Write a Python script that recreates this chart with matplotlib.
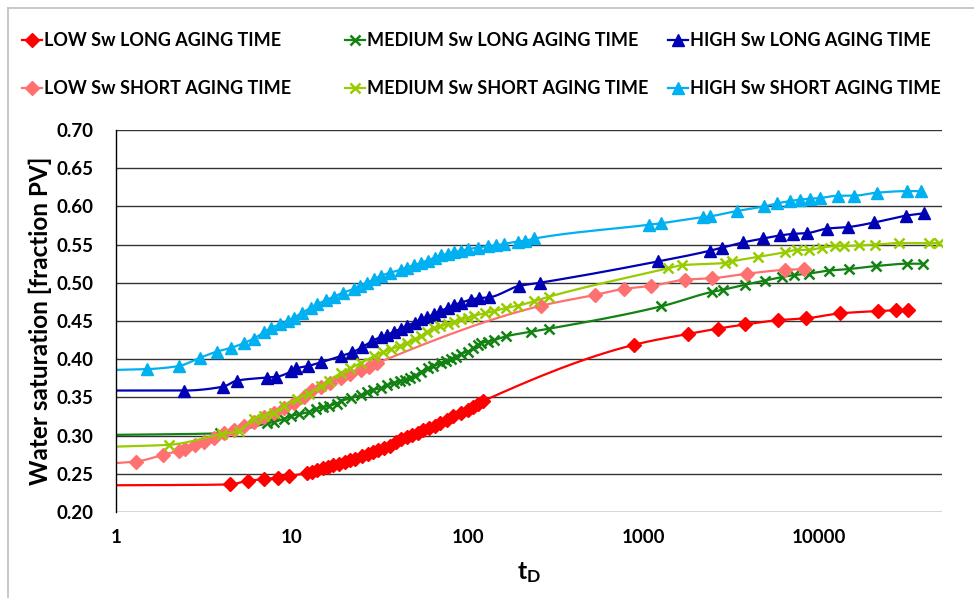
import numpy as np
import matplotlib
matplotlib.use("Agg")
import matplotlib.pyplot as plt
from matplotlib.lines import Line2D
from matplotlib.ticker import NullLocator, FixedLocator, FixedFormatter

plt.rcParams['font.family'] = ['Lato', 'DejaVu Sans']
plt.rcParams['font.weight'] = 'bold'
plt.rcParams['mathtext.fontset'] = 'custom'
plt.rcParams['mathtext.bf'] = 'Lato:bold'
plt.rcParams['mathtext.rm'] = 'Lato:bold'

# ============================================================
# Data
# ============================================================

low_long_t = [1, 4.43, 5.63, 6.98, 8.33, 9.6, 12.2, 13.0, 14.0, 15.0, 16.0, 17.2,
              18.5, 20.0, 21.5, 23.0, 25.0, 27.0, 29.0, 31.0, 33.5, 36.0, 39.0,
              42.0, 45.0, 48.0, 52.0, 56.0, 60.0, 65.0, 70.0, 76.0, 83.0, 92.0,
              100, 108, 115, 122, 890, 1785, 2646, 3788, 5825, 8450, 13180,
              21570, 27540, 31990]
low_long_sw = [0.235, 0.236, 0.241, 0.243, 0.245, 0.247, 0.251, 0.253, 0.255, 0.257,
               0.259, 0.261, 0.263, 0.266, 0.268, 0.270, 0.273, 0.276, 0.278, 0.281,
               0.284, 0.287, 0.291, 0.295, 0.298, 0.301, 0.304, 0.307, 0.310, 0.313,
               0.317, 0.321, 0.326, 0.330, 0.333, 0.338, 0.342, 0.345, 0.419, 0.433,
               0.440, 0.4455, 0.451, 0.4535, 0.460, 0.463, 0.464, 0.464]

med_long_t = [1, 3.92, 7.24, 7.97, 9.0, 9.96, 11.0, 12.5, 13.65, 15.0, 16.3, 18.0,
              19.0, 21.6, 24.6, 26.9, 29.0, 32.1, 35.0, 38.0, 41.0, 44.0, 47.0,
              50.0, 54.0, 59.4, 64.0, 70.5, 75.0, 80.0, 86.0, 92.0, 100.5, 108,
              114, 119, 130, 141.5, 165.6, 230, 292, 1257, 2446, 2854, 3787, 4926,
              6135, 7160, 8711, 11330, 14730, 21080, 31690, 38940]
med_long_sw = [0.301, 0.303, 0.316, 0.318, 0.322, 0.326, 0.328, 0.331, 0.335, 0.337,
               0.339, 0.342, 0.345, 0.349, 0.353, 0.357, 0.360, 0.362, 0.366, 0.369,
               0.371, 0.373, 0.376, 0.378, 0.383, 0.388, 0.391, 0.395, 0.398, 0.400,
               0.403, 0.407, 0.410, 0.415, 0.418, 0.421, 0.423, 0.425, 0.430, 0.436,
               0.440, 0.469, 0.488, 0.491, 0.4975, 0.503, 0.5076, 0.510, 0.512, 0.516,
               0.518, 0.522, 0.525, 0.525]

high_long_t = [1, 2.45, 4.06, 4.88, 7.24, 8.18, 9.93, 10.6, 12.3, 14.7, 18.96, 22.1,
               25.2, 28.7, 32.1, 35.0, 38.2, 42.0, 45.5, 50.0, 54.2, 59.0, 64.6, 70.0,
               77.0, 84.0, 91.7, 104.5, 116.6, 133, 197, 256.6, 1214, 2392, 2790,
               3710, 4825, 5998, 7095, 8530, 11100, 14630, 20620, 31400, 39470]
high_long_sw = [0.359, 0.359, 0.364, 0.372, 0.376, 0.377, 0.384, 0.388, 0.391, 0.396,
                0.404, 0.409, 0.416, 0.424, 0.429, 0.432, 0.436, 0.440, 0.444, 0.448,
                0.452, 0.455, 0.459, 0.463, 0.467, 0.471, 0.474, 0.478, 0.480, 0.481,
                0.496, 0.500, 0.528, 0.542, 0.546, 0.553, 0.558, 0.562, 0.564, 0.565,
                0.571, 0.573, 0.579, 0.588, 0.591]

low_short_t = [1, 1.30, 1.86, 2.27, 2.47, 2.82, 3.15, 3.59, 4.09, 4.67, 5.32, 6.07,
               6.92, 7.89, 9.0, 10.3, 11.7, 13.1, 14.6, 16.5, 19.0, 21.5, 24.6, 27.5,
               30.7, 262, 528, 773, 1112, 1723, 2467, 3911, 6408, 8160]
low_short_sw = [0.264, 0.266, 0.275, 0.280, 0.283, 0.288, 0.292, 0.297, 0.303, 0.307,
                0.313, 0.318, 0.325, 0.329, 0.336, 0.343, 0.351, 0.360, 0.364, 0.369,
                0.376, 0.381, 0.386, 0.390, 0.395, 0.470, 0.484, 0.492, 0.496, 0.504,
                0.506, 0.512, 0.517, 0.518]

med_short_t = [1, 2.01, 4.01, 4.99, 6.07, 6.92, 7.97, 9.0, 10.7, 12.5, 14.6, 16.3,
               19.0, 21.5, 24.6, 29.4, 33.0, 36.6, 41.0, 45.5, 50.0, 54.2, 59.0, 64.6,
               70.0, 77.0, 84.0, 91.7, 100, 109.2, 125, 142, 165, 193, 240, 292, 1384,
               1649, 2912, 3177, 4518, 6408, 7485, 8711, 10380, 12360, 13800, 16790,
               20890, 28430, 42150, 48000]
med_short_sw = [0.2856, 0.288, 0.302, 0.306, 0.322, 0.326, 0.329, 0.339, 0.348, 0.355,
                0.365, 0.372, 0.382, 0.388, 0.395, 0.404, 0.409, 0.413, 0.417, 0.421,
                0.426, 0.430, 0.436, 0.441, 0.443, 0.446, 0.449, 0.452, 0.454, 0.457,
                0.460, 0.463, 0.467, 0.470, 0.476, 0.482, 0.519, 0.523, 0.526, 0.528,
                0.534, 0.540, 0.543, 0.543, 0.546, 0.548, 0.548, 0.549, 0.550, 0.552,
                0.552, 0.552]

high_short_t = [1, 1.50, 2.27, 3.01, 3.75, 4.53, 5.33, 6.07, 6.92, 7.63, 8.62, 9.49,
                10.27, 11.47, 12.78, 13.96, 15.57, 17.4, 19.5, 22.6, 24.5, 26.9, 29.5,
                32.1, 36.0, 41.7, 45.0, 49.7, 54.0, 59.2, 65.0, 70.5, 77.0, 84.0, 92.0,
                100.2, 114.2, 130, 145, 162, 193, 212, 240, 1079, 1268, 2194, 2393,
                3404, 4888, 5745, 6843, 7800, 8895, 10140, 12790, 15710, 21370, 31410,
                37740]
high_short_sw = [0.386, 0.387, 0.391, 0.402, 0.410, 0.415, 0.421, 0.427, 0.435, 0.441,
                 0.446, 0.450, 0.454, 0.461, 0.467, 0.472, 0.477, 0.482, 0.487, 0.492,
                 0.496, 0.500, 0.505, 0.509, 0.513, 0.517, 0.520, 0.523, 0.526, 0.529,
                 0.533, 0.536, 0.538, 0.540, 0.542, 0.544, 0.546, 0.548, 0.549, 0.551,
                 0.554, 0.555, 0.558, 0.576, 0.578, 0.586, 0.587, 0.594, 0.600, 0.604,
                 0.607, 0.609, 0.610, 0.611, 0.614, 0.614, 0.618, 0.620, 0.620]

# label, t, sw, colour, marker, marker size, edge width
series = [
    ("LOW Sw LONG AGING TIME", low_long_t, low_long_sw, "#FF0000", "D", 7, 1.0),
    ("MEDIUM Sw LONG AGING TIME", med_long_t, med_long_sw, "#128212", "x", 7, 1.8),
    ("HIGH Sw LONG AGING TIME", high_long_t, high_long_sw, "#0000B4", "^", 8, 1.0),
    ("LOW Sw SHORT AGING TIME", low_short_t, low_short_sw, "#FF7070", "D", 7, 1.0),
    ("MEDIUM Sw SHORT AGING TIME", med_short_t, med_short_sw, "#99CC00", "x", 7, 1.8),
    ("HIGH Sw SHORT AGING TIME", high_short_t, high_short_sw, "#00B0F0", "^", 8, 1.0),
]


# ============================================================
# Smoothed line (monotone cubic in log-x), like Excel's smooth line
# ============================================================

def smooth(t, y, n=16):
    lx = np.log10(np.asarray(t, float))
    y = np.asarray(y, float)
    h = np.diff(lx)
    d = np.diff(y) / h
    m = np.zeros_like(y)
    m[0], m[-1] = d[0], d[-1]
    for k in range(1, len(y) - 1):
        if d[k - 1] * d[k] > 0:
            w1 = 2 * h[k] + h[k - 1]
            w2 = h[k] + 2 * h[k - 1]
            m[k] = (w1 + w2) / (w1 / d[k - 1] + w2 / d[k])
    xs, ys = [], []
    s = np.linspace(0, 1, n, endpoint=False)
    for k in range(len(h)):
        h00 = 2 * s**3 - 3 * s**2 + 1
        h10 = s**3 - 2 * s**2 + s
        h01 = -2 * s**3 + 3 * s**2
        h11 = s**3 - s**2
        xs.append(lx[k] + s * h[k])
        ys.append(h00 * y[k] + h10 * h[k] * m[k] + h01 * y[k + 1] + h11 * h[k] * m[k + 1])
    xs.append([lx[-1]])
    ys.append([y[-1]])
    return 10 ** np.concatenate(xs), np.concatenate(ys)


# ============================================================
# Plot
# ============================================================

fig = plt.figure(figsize=(9.74, 5.98), dpi=100)
ax = fig.add_axes([116 / 974, 1 - 512 / 598, 826 / 974, 382 / 598])

handles = {}
for label, t, sw, col, mk, ms, mew in series:
    xs, ys = smooth(t, sw)
    ax.plot(xs, ys, color=col, lw=1.6, solid_capstyle="butt")
    ax.plot(t[1:], sw[1:], ls="none", marker=mk, ms=ms, color=col,
            mec=col, mew=mew)
    handles[label] = Line2D([], [], color=col, lw=1.6, marker=mk, ms=ms,
                            mec=col, mew=mew)

ax.set_xscale("log")
ax.set_xlim(1, 50000)
ax.set_ylim(0.20, 0.70)
ax.xaxis.set_major_locator(FixedLocator([1, 10, 100, 1000, 10000]))
ax.xaxis.set_major_formatter(FixedFormatter(["1", "10", "100", "1000", "10000"]))
ax.xaxis.set_minor_locator(NullLocator())
ax.set_yticks(np.arange(0.20, 0.701, 0.05))
ax.set_yticklabels([f"{v:.2f}" for v in np.arange(0.20, 0.701, 0.05)])
ax.tick_params(axis="both", length=0, labelsize=13.5)
ax.tick_params(axis="x", pad=12)
ax.tick_params(axis="y", pad=16)

ax.yaxis.grid(True, color="#333333", lw=1.0)
ax.set_axisbelow(True)
for side in ["top", "right", "bottom"]:
    ax.spines[side].set_visible(False)
ax.spines["left"].set_color("black")
ax.spines["left"].set_linewidth(1.0)

ax.set_ylabel("Water saturation [fraction PV]", fontsize=17.5, fontweight="bold")
ax.yaxis.set_label_coords(-0.077, 0.5)
ax.set_xlabel(r"$\mathbf{t_D}$", fontsize=18)
ax.xaxis.set_label_coords(0.5, -0.125)

# Legend: three columns of two rows, placed like Excel does
cols = [
    ("LOW Sw LONG AGING TIME", "LOW Sw SHORT AGING TIME"),
    ("MEDIUM Sw LONG AGING TIME", "MEDIUM Sw SHORT AGING TIME"),
    ("HIGH Sw LONG AGING TIME", "HIGH Sw SHORT AGING TIME"),
]
col_x = [22 / 974, 345 / 974, 668 / 974]
for cx, labs in zip(col_x, cols):
    fig.legend([handles[l] for l in labs], labs, loc="center left",
               bbox_to_anchor=(cx, 1 - 64.5 / 598), frameon=False,
               borderpad=0, borderaxespad=0, handlelength=1.1,
               handletextpad=0.12, labelspacing=1.7,
               prop={"size": 13, "weight": "bold"})

# chart-area border
fig.add_artist(Line2D([8 / 974, 8 / 974], [0, 1 - 8 / 598], color="#BFBFBF",
                      lw=1.2, transform=fig.transFigure))
fig.add_artist(Line2D([8 / 974, 1], [1 - 8 / 598, 1 - 8 / 598], color="#BFBFBF",
                      lw=1.2, transform=fig.transFigure))

fig.savefig("out.png", dpi=100)
